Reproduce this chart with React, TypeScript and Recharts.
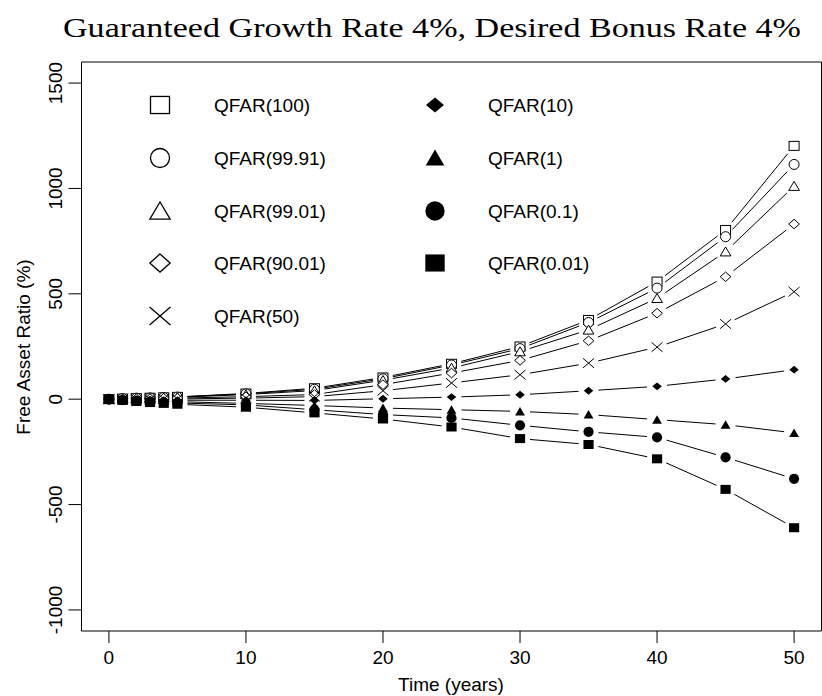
import React from "react";
import {
  ComposedChart,
  Line,
  Scatter,
  XAxis,
  YAxis,
  ReferenceArea,
  Customized,
} from "recharts";

const years = [0, 1, 2, 3, 4, 5, 10, 15, 20, 25, 30, 35, 40, 45, 50];

const q100 = [0, 3, 5, 7, 9, 11, 27, 52, 103, 168, 250, 376, 558, 803, 1202];
const q9991 = [0, 3, 5, 6, 8, 10, 25, 47, 97, 162, 240, 364, 527, 771, 1114];
const q9901 = [0, 2, 4, 5, 7, 9, 22, 41, 90, 148, 226, 329, 479, 700, 1011];
const q9001 = [0, 1, 2, 3, 4, 5, 12, 22, 69, 124, 184, 277, 408, 581, 831];
const q50 = [0, 0, 0, 0, 1, 1, 5, 12, 40, 77, 116, 171, 247, 357, 510];
const q10 = [0, -1, -2, -3, -4, -5, -5, -6, 2, 10, 21, 40, 61, 96, 140];
const q1 = [0, -3, -5, -8, -10, -12, -20, -30, -42, -50, -58, -73, -97, -121, -160];
const q01 = [0, -4, -8, -12, -15, -18, -27, -50, -73, -89, -124, -155, -181, -276, -378];
const q001 = [0, -6, -11, -16, -20, -24, -38, -65, -94, -132, -187, -215, -283, -428, -610];

const xTicks = [0, 10, 20, 30, 40, 50];
const yTicks = [-1000, -500, 0, 500, 1000, 1500];

const series = [
  { key: "q100", name: "QFAR(100)", values: q100, mark: "sq" },
  { key: "q9991", name: "QFAR(99.91)", values: q9991, mark: "circ" },
  { key: "q9901", name: "QFAR(99.01)", values: q9901, mark: "tri" },
  { key: "q9001", name: "QFAR(90.01)", values: q9001, mark: "diam" },
  { key: "q50", name: "QFAR(50)", values: q50, mark: "x" },
  { key: "q10", name: "QFAR(10)", values: q10, mark: "fdiam" },
  { key: "q1", name: "QFAR(1)", values: q1, mark: "ftri" },
  { key: "q01", name: "QFAR(0.1)", values: q01, mark: "fcirc" },
  { key: "q001", name: "QFAR(0.01)", values: q001, mark: "fsq" },
];

const data = years.map((t, i) => {
  const row: Record<string, number> = { t };
  series.forEach((s) => {
    row[s.key] = s.values[i];
  });
  return row;
});

const SANS = "'Liberation Sans', Arial, Helvetica, sans-serif";
const SERIF = "'Liberation Serif', 'Times New Roman', serif";

// plot box size and domains, used only to size the R-style gaps (type = "b")
const PLOT_W = 740;
const PLOT_H = 569;
const X_DOMAIN = [-2, 52];
const Y_DOMAIN = [-1100, 1600];
const GAP = 10;

function gapDash(values: number[]) {
  const kx = PLOT_W / (X_DOMAIN[1] - X_DOMAIN[0]);
  const ky = PLOT_H / (Y_DOMAIN[1] - Y_DOMAIN[0]);
  const runs: [boolean, number][] = [];
  const push = (on: boolean, len: number) => {
    if (len <= 0) return;
    const last = runs[runs.length - 1];
    if (last && last[0] === on) last[1] += len;
    else runs.push([on, len]);
  };
  for (let i = 0; i < years.length - 1; i++) {
    const L = Math.hypot((years[i + 1] - years[i]) * kx, (values[i + 1] - values[i]) * ky);
    const g = Math.min(GAP, L / 2);
    push(false, g);
    push(true, L - 2 * g);
    push(false, g);
  }
  push(false, 2000);
  if (runs[0][0] === false) runs.unshift([true, 0]);
  if (runs.length % 2 === 1) runs.push([false, 2000]);
  return runs.map((r) => r[1].toFixed(2)).join(" ");
}

// R-like plotting symbols, s = nominal size in px
function marker(kind: string, cx: number, cy: number, s: number) {
  const h = s / 2;
  const sw = s > 14 ? 1.3 : 1;
  switch (kind) {
    case "sq":
      return <rect x={cx - h} y={cy - h * 0.9} width={s} height={s * 0.9} fill="#fff" stroke="#000" strokeWidth={sw} />;
    case "circ":
      return <circle cx={cx} cy={cy} r={h} fill="#fff" stroke="#000" strokeWidth={sw} />;
    case "tri":
      return (
        <polygon points={`${cx},${cy - h * 0.95} ${cx - h * 1.07},${cy + h * 0.85} ${cx + h * 1.07},${cy + h * 0.85}`} fill="#fff" stroke="#000" strokeWidth={sw} />
      );
    case "diam":
      return (
        <polygon points={`${cx},${cy - h * 0.95} ${cx + h * 1.07},${cy} ${cx},${cy + h * 0.95} ${cx - h * 1.07},${cy}`} fill="#fff" stroke="#000" strokeWidth={sw} />
      );
    case "x":
      return (
        <g stroke="#000" strokeWidth={sw}>
          <line x1={cx - h * 1.1} y1={cy - h * 0.95} x2={cx + h * 1.1} y2={cy + h * 0.95} />
          <line x1={cx - h * 1.1} y1={cy + h * 0.95} x2={cx + h * 1.1} y2={cy - h * 0.95} />
        </g>
      );
    case "fdiam":
      return (
        <polygon points={`${cx},${cy - h * 0.78} ${cx + h * 0.95},${cy} ${cx},${cy + h * 0.78} ${cx - h * 0.95},${cy}`} fill="#000" />
      );
    case "ftri":
      return (
        <polygon points={`${cx},${cy - h * 0.9} ${cx - h * 0.98},${cy + h * 0.8} ${cx + h * 0.98},${cy + h * 0.8}`} fill="#000" />
      );
    case "fcirc":
      return <circle cx={cx} cy={cy} r={h * 1.02} fill="#000" />;
    case "fsq":
      return <rect x={cx - h * 1.02} y={cy - h * 0.9} width={s * 1.02} height={s * 0.9} fill="#000" />;
    default:
      return null;
  }
}

const YTick = (props: any) => {
  const { x, y, payload } = props;
  return (
    <text
      x={x}
      y={y}
      transform={`rotate(-90 ${x} ${y})`}
      textAnchor="middle"
      fill="#000"
      fontSize={19}
      fontFamily={SANS}
    >
      {payload.value}
    </text>
  );
};

const Overlay = () => {
  const rows = [105, 158, 211, 263, 316];
  return (
    <g>
      <text
        x={432}
        y={37}
        textAnchor="middle"
        fontFamily={SERIF}
        fontSize={27}
        textLength={738}
        lengthAdjust="spacingAndGlyphs"
        fill="#000"
      >
        Guaranteed Growth Rate 4%, Desired Bonus Rate 4%
      </text>
      <text x={451} y={691} textAnchor="middle" fontFamily={SANS} fontSize={19} fill="#000">
        Time (years)
      </text>
      <text
        x={30}
        y={347}
        transform="rotate(-90 30 347)"
        textAnchor="middle"
        fontFamily={SANS}
        fontSize={19}
        fill="#000"
      >
        Free Asset Ratio (%)
      </text>
      {series.map((s, i) => {
        const col = i < 5 ? 0 : 1;
        const row = i < 5 ? i : i - 5;
        const sx = col === 0 ? 160 : 435;
        const tx = col === 0 ? 214 : 488;
        const cy = rows[row];
        return (
          <g key={s.key}>
            {marker(s.mark, sx, cy, 19)}
            <text x={tx} y={cy + 7} fontFamily={SANS} fontSize={19} fill="#000">
              {s.name}
            </text>
          </g>
        );
      })}
    </g>
  );
};

export default function App() {
  return (
    <div style={{ position: "absolute", left: 0, top: 0, background: "#fff" }}>
      <ComposedChart
        width={822}
        height={696}
        data={data}
        margin={{ top: 62, right: 0.5, bottom: 0, left: 0 }}
      >
        <XAxis
          dataKey="t"
          type="number"
          domain={X_DOMAIN}
          ticks={xTicks}
          allowDataOverflow
          axisLine={false}
          tickLine={{ stroke: "#000" }}
          tickSize={12}
          tickMargin={8}
          height={65}
          tick={{ fill: "#000", fontSize: 19, fontFamily: SANS }}
        />
        <YAxis
          type="number"
          domain={Y_DOMAIN}
          ticks={yTicks}
          allowDataOverflow
          axisLine={false}
          tickLine={{ stroke: "#000" }}
          tickSize={13}
          tickMargin={6}
          width={81.5}
          tick={<YTick />}
        />
        <ReferenceArea
          x1={X_DOMAIN[0]}
          x2={X_DOMAIN[1]}
          y1={Y_DOMAIN[0]}
          y2={Y_DOMAIN[1]}
          fill="none"
          stroke="#000"
          strokeWidth={1}
          ifOverflow="visible"
        />
        {series.map((s) => (
          <Line
            key={`l-${s.key}`}
            dataKey={s.key}
            type="linear"
            stroke="#000"
            strokeWidth={1}
            strokeDasharray={gapDash(s.values)}
            dot={false}
            activeDot={false}
            isAnimationActive={false}
          />
        ))}
        {series.map((s) => (
          <Scatter
            key={`m-${s.key}`}
            dataKey={s.key}
            isAnimationActive={false}
            shape={(p: any) => <g>{marker(s.mark, p.cx, p.cy, 10)}</g>}
          />
        ))}
        <Customized component={<Overlay />} />
      </ComposedChart>
    </div>
  );
}
